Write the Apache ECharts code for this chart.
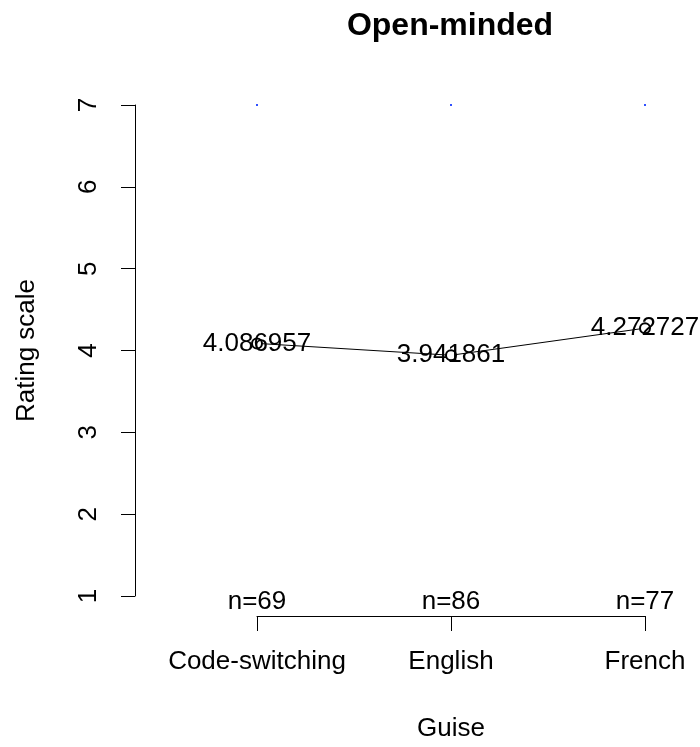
<!DOCTYPE html>
<html>
<head>
<meta charset="utf-8">
<script src="https://cdn.jsdelivr.net/npm/echarts@6/dist/echarts.min.js"></script>
<style>
  html, body { margin: 0; padding: 0; background: #fff; }
  #chart { width: 700px; height: 747px; }
</style>
</head>
<body>
<div id="chart"></div>
<script>
// Guise categories and the mean rating for each
const guises = ['Code-switching', 'English', 'French'];
const means = [4.086957, 3.941861, 4.272727];
const counts = [69, 86, 77];
// upper ends of the interval bars (clipped to the top of the scale)
const barTops = [7, 7, 7];
const yTicks = [1, 2, 3, 4, 5, 6, 7];

const FONT = 'Liberation Sans, Arial, sans-serif';
const FS = 26;
const yMin = yTicks[0], yMax = yTicks[yTicks.length - 1];
// plot region extends 4% past the data range, as in base graphics
const yBottom = yMin - 0.04 * (yMax - yMin);

const chart = echarts.init(document.getElementById('chart'));

chart.setOption({
  backgroundColor: '#ffffff',
  animation: false,
  title: {
    text: 'Open-minded',
    left: 445,
    textAlign: 'center',
    top: 5,
    textStyle: { fontFamily: FONT, fontWeight: 'bold', fontSize: 32, color: '#000' }
  },
  grid: { left: 257, right: 55, top: 105, bottom: 145, containLabel: false },
  xAxis: {
    type: 'value',
    min: 1, max: 3, interval: 1,
    offset: 20,
    name: 'Guise',
    nameLocation: 'middle',
    nameGap: 100,
    nameTextStyle: { fontFamily: FONT, fontSize: FS, color: '#000' },
    axisLine: { show: true, lineStyle: { color: '#000', width: 1 } },
    axisTick: { show: true, length: 15, lineStyle: { color: '#000' } },
    axisLabel: {
      fontFamily: FONT, fontSize: FS, color: '#000', margin: 33,
      formatter: v => guises[Math.round(v) - 1] || ''
    },
    splitLine: { show: false }
  },
  yAxis: {
    type: 'value',
    min: yMin, max: yMax, interval: 1,
    offset: 122,
    name: 'Rating scale',
    nameLocation: 'middle',
    nameGap: 95,
    nameRotate: 90,
    nameTextStyle: { fontFamily: FONT, fontSize: FS, color: '#000' },
    axisLine: { show: true, lineStyle: { color: '#000', width: 1 } },
    axisTick: { show: true, length: 14, lineStyle: { color: '#000' } },
    axisLabel: { fontFamily: FONT, fontSize: FS, color: '#000', rotate: 90, margin: 33 },
    splitLine: { show: false }
  },
  series: [
    {
      type: 'line',
      data: means.map((m, i) => [i + 1, m]),
      symbol: 'emptyCircle',
      symbolSize: 10,
      clip: false,
      lineStyle: { color: '#000', width: 1 },
      itemStyle: { color: '#000', borderColor: '#000', borderWidth: 1 },
      label: {
        show: true,
        position: 'inside',
        fontFamily: FONT, fontSize: FS, color: '#000',
        formatter: p => String(p.value[1])
      },
      z: 3
    },
    {
      // sample sizes printed just above the bottom of the plot region
      type: 'scatter',
      data: counts.map((n, i) => [i + 1, yBottom, n]),
      symbol: 'circle',
      symbolSize: 0,
      clip: false,
      itemStyle: { color: '#000', opacity: 1 },
      label: {
        show: true,
        position: 'top',
        distance: 1,
        fontFamily: FONT, fontSize: FS, color: '#000',
        formatter: p => 'n=' + p.value[2]
      }
    },
    {
      type: 'scatter',
      data: barTops.map((t, i) => [i + 1, t]),
      symbol: 'rect',
      symbolSize: 2,
      clip: false,
      itemStyle: { color: '#3050ff', opacity: 1 }
    }
  ]
});
</script>
</body>
</html>
